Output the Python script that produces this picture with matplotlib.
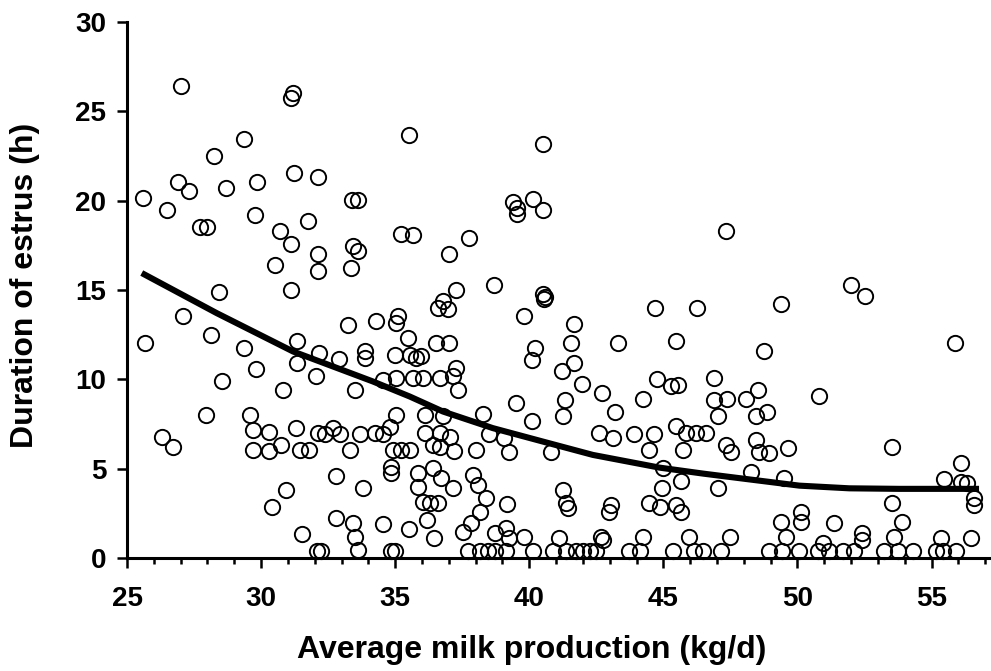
import matplotlib
matplotlib.use("Agg")
import matplotlib.pyplot as plt
from matplotlib.ticker import MultipleLocator

plt.rcParams['font.family'] = ['Liberation Sans', 'DejaVu Sans']
plt.rcParams['font.weight'] = 'bold'

# milk production (kg/d) and duration of estrus (h) per cow
milk = [
    27.0, 31.2, 31.1, 29.37, 35.51, 28.25, 26.91, 27.32, 28.71, 29.85, 31.23, 32.12, 33.4, 33.6, 25.58,
    40.53, 39.4, 39.55, 39.55, 40.13, 40.5,
    26.48, 27.72, 27.99, 29.79, 30.7, 31.1, 31.75, 32.12, 32.12, 30.53, 33.43, 33.61, 33.34, 35.23, 35.66,
    31.13, 28.44, 27.07, 25.67, 28.15, 29.37, 29.8, 31.34, 31.34, 32.15, 32.9, 33.24, 34.3, 35.1, 35.04,
    35.48, 33.86, 33.86, 34.98, 35.54, 35.79, 32.06, 28.56, 34.55, 35.04, 35.66,
    30.82, 33.49, 27.94, 29.58, 29.7, 30.3, 29.68, 30.3, 30.74, 31.32, 31.44, 31.79, 32.12, 32.37, 32.68,
    32.93, 33.31, 33.7, 34.24, 34.55, 34.8, 35.04, 34.9, 35.23, 35.54, 34.86, 34.86, 32.78, 33.8, 30.92,
    30.41, 26.29, 26.72, 32.78, 33.43, 33.49, 33.61, 34.55, 35.51, 31.54, 32.1, 32.25, 34.85, 34.98,
    37.75, 37.0, 38.67, 37.27, 36.78, 36.59, 36.97, 40.5, 40.6, 40.55, 39.8, 44.67, 46.24, 41.65, 41.54,
    43.3, 45.47, 36.51, 37.0, 35.97, 40.2, 40.11, 41.65, 41.22, 37.27, 37.15, 36.04, 36.66, 41.95, 44.75,
    45.3, 45.55,
    37.34, 42.72, 44.23, 39.51, 41.34, 41.25, 40.11, 43.21, 38.27, 36.1, 36.78, 36.1, 36.66, 37.04, 36.41,
    36.66, 37.21, 38.02, 38.51, 39.07, 39.26, 40.81, 42.6, 43.11, 43.92, 44.64, 44.45, 45.47, 45.84, 46.21,
    46.59, 45.72, 44.97, 45.66, 44.95, 44.48, 44.86, 45.47, 45.66, 41.25, 41.38, 41.44, 43.05, 42.99, 39.17,
    35.85, 36.41, 36.72, 37.15, 35.85, 37.9, 38.08, 38.4, 38.15, 36.04, 36.29, 36.6, 36.17, 36.43, 37.53,
    37.84, 38.71, 39.14, 39.26, 39.82, 41.1, 42.68, 42.74, 44.23, 45.97,
    37.71, 38.15, 38.46, 38.71, 39.14, 40.13, 40.88, 41.38, 41.75, 42.0, 42.25, 42.5, 43.73, 44.11, 45.35,
    46.16, 46.47,
    47.34, 51.99, 52.52, 49.38, 55.88, 48.77, 46.9,
    48.51, 48.08, 47.39, 46.9, 50.82, 48.45, 48.88, 47.02, 47.34, 47.52, 48.45, 48.57, 48.95, 49.63, 53.52,
    56.09, 55.47, 56.09, 56.33, 56.6, 56.6, 48.27, 49.5, 47.02, 53.52, 50.12, 50.12, 49.38, 51.37, 53.91,
    52.39, 52.39, 49.57, 47.48, 53.6, 55.34, 56.46, 50.94,
    47.15, 48.95, 49.44, 50.06, 50.75, 51.18, 51.68, 52.12, 53.24, 53.73, 54.29, 55.16, 55.41, 55.9,
]
estrus = [
    26.4, 26.0, 25.75, 23.47, 23.66, 22.48, 21.03, 20.52, 20.71, 21.03, 21.55, 21.33, 20.05, 20.05, 20.15,
    23.18, 19.95, 19.6, 19.25, 20.1, 19.46,
    19.5, 18.53, 18.53, 19.18, 18.32, 17.59, 18.84, 17.01, 16.04, 16.38, 17.48, 17.16, 16.23, 18.13, 18.06,
    14.98, 14.88, 13.57, 12.03, 12.49, 11.75, 10.59, 12.16, 10.91, 11.47, 11.15, 13.05, 13.28, 13.52, 13.15,
    12.31, 11.56, 11.19, 11.37, 11.37, 11.19, 10.16, 9.9, 9.97, 10.07, 10.07,
    9.41, 9.41, 8.01, 8.01, 7.17, 7.04, 6.05, 5.99, 6.33, 7.26, 6.05, 6.05, 6.99, 6.93, 7.27,
    6.93, 6.05, 6.93, 6.99, 6.93, 7.36, 8.01, 6.05, 6.05, 6.05, 5.11, 4.74, 4.59, 3.94, 3.81,
    2.87, 6.8, 6.24, 2.26, 1.94, 1.19, 0.45, 1.89, 1.62, 1.33, 0.4, 0.4, 0.4, 0.4,
    17.91, 17.01, 15.29, 15.01, 14.4, 13.99, 13.95, 14.8, 14.6, 14.5, 13.57, 13.99, 13.99, 13.09, 12.03,
    12.03, 12.12, 12.03, 12.03, 11.3, 11.75, 11.09, 10.94, 10.44, 10.63, 10.16, 10.1, 10.07, 9.75, 10.0,
    9.6, 9.7,
    9.41, 9.23, 8.91, 8.67, 8.85, 7.96, 7.69, 8.16, 8.05, 8.01, 7.92, 6.99, 6.99, 6.8, 6.33,
    6.24, 5.99, 6.05, 6.93, 6.71, 5.92, 5.92, 6.99, 6.74, 6.93, 6.93, 6.05, 7.41, 6.99, 6.99,
    6.99, 6.05, 5.06, 4.31, 3.94, 3.06, 2.87, 2.97, 2.59, 3.81, 3.06, 2.78, 2.97, 2.59, 3.01,
    4.74, 5.02, 4.46, 3.94, 3.99, 4.65, 4.09, 3.34, 2.59, 3.16, 3.06, 3.06, 2.13, 1.1, 1.47,
    1.94, 1.38, 1.66, 1.1, 1.19, 1.1, 1.19, 1.0, 1.19, 1.19,
    0.4, 0.4, 0.4, 0.4, 0.4, 0.4, 0.4, 0.4, 0.4, 0.4, 0.4, 0.4, 0.4, 0.4, 0.4,
    0.4, 0.4,
    18.28, 15.29, 14.64, 14.21, 12.03, 11.56, 10.1,
    9.41, 8.91, 8.91, 8.85, 9.09, 7.97, 8.16, 7.97, 6.33, 5.96, 6.61, 5.96, 5.87, 6.18, 6.24,
    5.3, 4.43, 4.28, 4.18, 3.34, 2.97, 4.8, 4.46, 3.94, 3.06, 2.59, 2.03, 2.03, 1.94, 2.03,
    1.38, 1.0, 1.19, 1.16, 1.19, 1.1, 1.1, 0.82,
    0.4, 0.4, 0.4, 0.4, 0.4, 0.4, 0.4, 0.4, 0.4, 0.4, 0.4, 0.4, 0.4, 0.4,
]

# fitted trend line
trend_x = [25.55, 28.34, 31.19, 34.17, 35.54, 36.78, 38.64, 40.5, 42.37, 44.85, 46.5, 48.2, 50.07, 51.93, 53.79, 56.77]
trend_y = [15.95, 13.71, 11.56, 9.88, 9.04, 8.2, 7.27, 6.52, 5.77, 5.06, 4.72, 4.4, 4.05, 3.9, 3.87, 3.87]

fig = plt.figure(figsize=(9.91, 6.71), dpi=100)
ax = fig.add_axes([127 / 991, 113 / 671, 863 / 991, 536 / 671])

ax.plot(milk, estrus, linestyle='none', marker='o', markersize=11,
        markerfacecolor='none', markeredgecolor='black', markeredgewidth=1.4, clip_on=False)
ax.plot(trend_x, trend_y, color='black', linewidth=4.4, solid_capstyle='butt')

ax.set_xlim(25, 25 + 864 / 26.85)
ax.set_ylim(0, 30)
ax.xaxis.set_major_locator(MultipleLocator(5))
ax.xaxis.set_minor_locator(MultipleLocator(1))
ax.yaxis.set_major_locator(MultipleLocator(5))

for side in ['top', 'right']:
    ax.spines[side].set_visible(False)
for side in ['left', 'bottom']:
    ax.spines[side].set_linewidth(2.2)

ax.tick_params(axis='both', which='major', direction='out', length=7, width=1.8, labelsize=20)
ax.tick_params(axis='x', which='minor', direction='out', length=4, width=1.8)
ax.tick_params(axis='x', which='major', pad=13)
ax.tick_params(axis='y', which='major', pad=8)

fig.text(532 / 991, 13 / 671, 'Average milk production (kg/d)', ha='center', va='baseline',
         fontsize=23, fontweight='bold')
fig.text(25 / 991, 1 - 285 / 671, 'Duration of estrus (h)', ha='center', va='center',
         rotation=90, fontsize=23, fontweight='bold')

fig.savefig('out.png', dpi=100)
